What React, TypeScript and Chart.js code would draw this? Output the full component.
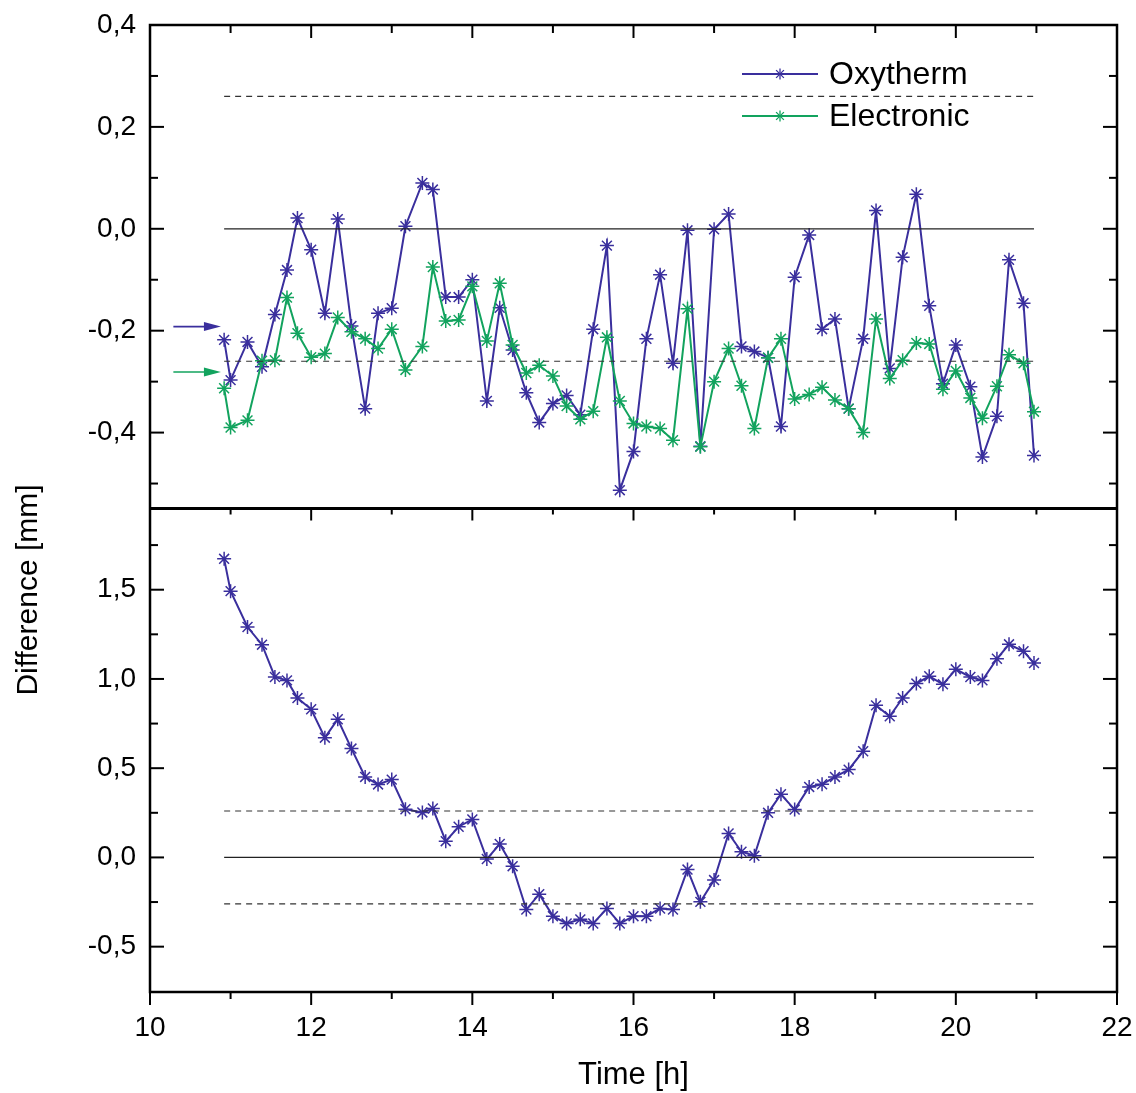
import React, { useEffect, useRef } from 'react';
import { Chart, registerables } from 'chart.js';

Chart.register(...registerables);

// ---------- data ----------
const timeH = [
  10.92, 11.0, 11.21, 11.39, 11.55, 11.7, 11.83, 12.0, 12.17, 12.33, 12.5, 12.67, 12.83, 13.0, 13.17, 13.38, 13.51, 13.67, 13.83, 14.0,
  14.18, 14.34, 14.5, 14.67, 14.83, 15.0, 15.17, 15.34, 15.5, 15.67, 15.83, 16.0, 16.16, 16.33, 16.49, 16.67, 16.83, 17.0, 17.18, 17.34, 17.5, 17.67, 17.83, 18.0,
  18.18, 18.34, 18.5, 18.67, 18.85, 19.01, 19.18, 19.34, 19.51, 19.67, 19.84, 20.0, 20.18, 20.33, 20.51, 20.66, 20.84, 20.97,
];

const oxyTop = [
  -0.218, -0.297, -0.222, -0.271, -0.168, -0.081, 0.021, -0.041, -0.166, 0.019, -0.191, -0.353, -0.166, -0.156, 0.005, 0.09, 0.077, -0.134, -0.134, -0.1,
  -0.338, -0.155, -0.238, -0.322, -0.38, -0.343, -0.327, -0.365, -0.197, -0.033, -0.513, -0.437, -0.216, -0.09, -0.264, -0.003, -0.427, -0.001, 0.029, -0.231, -0.241, -0.253, -0.388, -0.095,
  -0.012, -0.197, -0.177, -0.353, -0.216, 0.036, -0.274, -0.056, 0.068, -0.151, -0.304, -0.228, -0.31, -0.448, -0.368, -0.061, -0.146, -0.445,
];

const elecTop = [
  -0.313, -0.39, -0.376, -0.259, -0.258, -0.135, -0.205, -0.252, -0.245, -0.174, -0.202, -0.216, -0.235, -0.197, -0.277, -0.231, -0.075, -0.181, -0.179, -0.113,
  -0.22, -0.107, -0.228, -0.283, -0.268, -0.289, -0.348, -0.374, -0.358, -0.213, -0.338, -0.382, -0.388, -0.392, -0.415, -0.157, -0.428, -0.3, -0.235, -0.308, -0.392, -0.253, -0.216, -0.334,
  -0.325, -0.311, -0.336, -0.353, -0.4, -0.177, -0.294, -0.258, -0.224, -0.226, -0.315, -0.279, -0.332, -0.372, -0.309, -0.247, -0.264, -0.359,
];

const oxyBot = [
  1.673, 1.492, 1.291, 1.192, 1.011, 0.992, 0.893, 0.83, 0.671, 0.774, 0.61, 0.451, 0.409, 0.436, 0.27, 0.252, 0.274, 0.091, 0.172, 0.213,
  -0.009, 0.075, -0.049, -0.292, -0.206, -0.329, -0.37, -0.347, -0.37, -0.286, -0.37, -0.329, -0.329, -0.286, -0.292, -0.068, -0.249, -0.127, 0.134, 0.032, 0.009, 0.25, 0.354, 0.268,
  0.395, 0.41, 0.451, 0.492, 0.595, 0.852, 0.791, 0.893, 0.974, 1.015, 0.97, 1.054, 1.011, 0.992, 1.113, 1.194, 1.155, 1.089,
];

const seriesNames = ['Oxytherm', 'Electronic'];
const seriesColors = ['#3a2f9d', '#12a35e'];

const zeroLevel = 0;
const limitLevels = [0.26, -0.26];

const arrowLevels = [-0.192, -0.281]; // Oxytherm, Electronic
const arrowSpan = [10.29, 10.88];

const xRange = [10, 22];
const yTopRange = [-0.549, 0.4];
const yBotRange = [-0.754, 1.955];

const xTicks = [10, 12, 14, 16, 18, 20, 22];
const xMinorTicks = [11, 13, 15, 17, 19, 21];
const yTopTicks = [-0.4, -0.2, 0, 0.2, 0.4];
const yTopMinorTicks = [-0.5, -0.3, -0.1, 0.1, 0.3];
const yBotTicks = [-0.5, 0, 0.5, 1, 1.5];
const yBotMinorTicks = [-0.25, 0.25, 0.75, 1.25, 1.75];

const xTitle = 'Time [h]';
const yTitle = 'Difference [mm]';

const FONT = "'Liberation Sans', Arial, Helvetica, sans-serif";

// ---------- helpers ----------
const pts = (ys: number[]) => timeH.map((t, i) => ({ x: t, y: ys[i] }));
const flat = (v: number) => [
  { x: timeH[0], y: v },
  { x: timeH[timeH.length - 1], y: v },
];
const fmt = (v: any) => Number(v).toFixed(1).replace('.', ',');
const zeroPad = (s: any) => {
  s.paddingLeft = 0;
  s.paddingRight = 0;
  s.paddingTop = 0;
  s.paddingBottom = 0;
};

const framePlugin = {
  id: 'frameTicks',
  afterDatasetsDraw(chart: any) {
    const { ctx, chartArea: ca, scales } = chart;
    const xs = scales.x;
    const yt = scales.yTop;
    const yb = scales.yBot;
    ctx.save();
    ctx.strokeStyle = '#000';
    ctx.lineCap = 'butt';
    const seg = (x1: number, y1: number, x2: number, y2: number) => {
      ctx.beginPath();
      ctx.moveTo(x1, y1);
      ctx.lineTo(x2, y2);
      ctx.stroke();
    };
    ctx.lineWidth = 2;
    const yTickSets: [any, number[], number[]][] = [
      [yt, yTopTicks, yTopMinorTicks],
      [yb, yBotTicks, yBotMinorTicks],
    ];
    for (const [s, major, minor] of yTickSets) {
      for (const v of major) {
        const p = s.getPixelForValue(v);
        seg(ca.left, p, ca.left + 14, p);
        seg(ca.right, p, ca.right - 14, p);
      }
      for (const v of minor) {
        const p = s.getPixelForValue(v);
        seg(ca.left, p, ca.left + 8, p);
        seg(ca.right, p, ca.right - 8, p);
      }
    }
    for (const v of xTicks) {
      const p = xs.getPixelForValue(v);
      seg(p, ca.top, p, ca.top + 13);
      seg(p, yt.bottom, p, yt.bottom + 12);
      seg(p, ca.bottom, p, ca.bottom + 13);
    }
    for (const v of xMinorTicks) {
      const p = xs.getPixelForValue(v);
      seg(p, ca.top, p, ca.top + 8);
      seg(p, yt.bottom, p, yt.bottom + 6);
      seg(p, ca.bottom, p, ca.bottom + 7);
    }
    ctx.lineWidth = 2.5;
    ctx.lineJoin = 'miter';
    ctx.strokeRect(ca.left, ca.top, ca.right - ca.left, ca.bottom - ca.top);
    ctx.lineWidth = 3;
    seg(ca.left, yt.bottom, ca.right, yt.bottom);
    ctx.restore();
  },
};

const drawStar = (ctx: any, x: number, y: number, r: number) => {
  for (let k = 0; k < 4; k++) {
    const a = (k * Math.PI) / 4;
    const dx = Math.cos(a) * r;
    const dy = Math.sin(a) * r;
    ctx.beginPath();
    ctx.moveTo(x - dx, y - dy);
    ctx.lineTo(x + dx, y + dy);
    ctx.stroke();
  }
};

const decorPlugin = {
  id: 'decor',
  afterDraw(chart: any) {
    const { ctx, chartArea: ca, scales } = chart;
    const xs = scales.x;
    const yt = scales.yTop;
    ctx.save();
    arrowLevels.forEach((lvl, i) => {
      const y = yt.getPixelForValue(lvl);
      const x1 = xs.getPixelForValue(arrowSpan[0]);
      const x2 = xs.getPixelForValue(arrowSpan[1]);
      ctx.strokeStyle = seriesColors[i];
      ctx.fillStyle = seriesColors[i];
      ctx.lineWidth = 1.6;
      ctx.beginPath();
      ctx.moveTo(x1, y);
      ctx.lineTo(x2 - 14, y);
      ctx.stroke();
      ctx.beginPath();
      ctx.moveTo(x2, y);
      ctx.lineTo(x2 - 17, y - 4.5);
      ctx.lineTo(x2 - 17, y + 4.5);
      ctx.closePath();
      ctx.fill();
    });
    const lx0 = ca.left + 592;
    const lx1 = ca.left + 668;
    const lmx = ca.left + 630;
    const ltx = ca.left + 679;
    const lys = [ca.top + 49, ca.top + 91];
    seriesNames.forEach((name, i) => {
      const y = lys[i];
      ctx.strokeStyle = seriesColors[i];
      ctx.lineWidth = 2;
      ctx.beginPath();
      ctx.moveTo(lx0, y);
      ctx.lineTo(lx1, y);
      ctx.stroke();
      ctx.lineWidth = 1.3;
      drawStar(ctx, lmx, y, 5.5);
      ctx.fillStyle = '#000';
      ctx.font = `32px ${FONT}`;
      ctx.textAlign = 'left';
      ctx.textBaseline = 'middle';
      ctx.fillText(name, ltx, y + 1);
    });
    ctx.fillStyle = '#000';
    ctx.font = `31px ${FONT}`;
    ctx.textAlign = 'center';
    ctx.textBaseline = 'alphabetic';
    ctx.fillText(xTitle, (ca.left + ca.right) / 2, 1084);
    ctx.translate(37, 590);
    ctx.rotate(-Math.PI / 2);
    ctx.font = `30px ${FONT}`;
    ctx.fillText(yTitle, 0, 0);
    ctx.restore();
  },
};

export default function App() {
  const ref = useRef<HTMLCanvasElement | null>(null);

  useEffect(() => {
    if (!ref.current) return;
    const lineSeries = (label: string, ys: number[], color: string, yAxisID: string) => ({
      label,
      data: pts(ys),
      yAxisID,
      xAxisID: 'x',
      borderColor: color,
      backgroundColor: color,
      borderWidth: 2,
      pointStyle: 'star',
      pointRadius: 7,
      pointBorderWidth: 1.5,
      pointBorderColor: color,
      tension: 0,
    });
    const refLine = (v: number, yAxisID: string, dashed: boolean) => ({
      label: 'ref',
      data: flat(v),
      yAxisID,
      xAxisID: 'x',
      borderColor: dashed ? '#333' : '#222',
      borderWidth: dashed ? 1.2 : 1.3,
      borderDash: dashed ? [6, 5] : [],
      pointRadius: 0,
    });

    const datasets: any[] = [
      refLine(zeroLevel, 'yTop', false),
      ...limitLevels.map((v) => refLine(v, 'yTop', true)),
      refLine(zeroLevel, 'yBot', false),
      ...limitLevels.map((v) => refLine(v, 'yBot', true)),
      lineSeries(seriesNames[1], elecTop, seriesColors[1], 'yTop'),
      lineSeries(seriesNames[0], oxyTop, seriesColors[0], 'yTop'),
      lineSeries(seriesNames[0], oxyBot, seriesColors[0], 'yBot'),
    ];

    const yCommon = (ticks: number[]) => ({
      type: 'linear',
      position: 'left',
      stack: 'panels',
      stackWeight: 1,
      grid: { display: false, drawTicks: false },
      border: { display: false },
      afterBuildTicks: (s: any) => {
        s.ticks = ticks.map((v) => ({ value: v }));
      },
      afterFit: (s: any) => {
        s.width = 150;
        zeroPad(s);
      },
      ticks: {
        color: '#000',
        padding: 14,
        font: { family: FONT, size: 28 },
        callback: fmt,
      },
    });

    const chart = new Chart(ref.current, {
      type: 'line',
      data: { datasets },
      options: {
        animation: false,
        responsive: false,
        devicePixelRatio: 1,
        events: [],
        layout: { padding: { top: 25, right: 19, left: 0, bottom: 0 } },
        plugins: { legend: { display: false }, tooltip: { enabled: false }, title: { display: false } },
        scales: {
          x: {
            type: 'linear',
            position: 'bottom',
            min: xRange[0],
            max: xRange[1],
            grid: { display: false, drawTicks: false },
            border: { display: false },
            afterBuildTicks: (s: any) => {
              s.ticks = xTicks.map((v) => ({ value: v }));
            },
            afterFit: (s: any) => {
              s.height = 101;
              zeroPad(s);
            },
            ticks: {
              color: '#000',
              padding: 19,
              maxRotation: 0,
              font: { family: FONT, size: 28 },
              callback: (v: any) => String(v),
            },
          },
          yBot: { ...yCommon(yBotTicks), min: yBotRange[0], max: yBotRange[1] },
          yTop: { ...yCommon(yTopTicks), min: yTopRange[0], max: yTopRange[1] },
        } as any,
      },
      plugins: [framePlugin, decorPlugin],
    } as any);
    return () => chart.destroy();
  }, []);

  return (
    <div style={{ position: 'absolute', left: 0, top: 0, width: 1136, height: 1093, background: '#fff' }}>
      <canvas ref={ref} width={1136} height={1093} style={{ display: 'block' }} />
    </div>
  );
}
